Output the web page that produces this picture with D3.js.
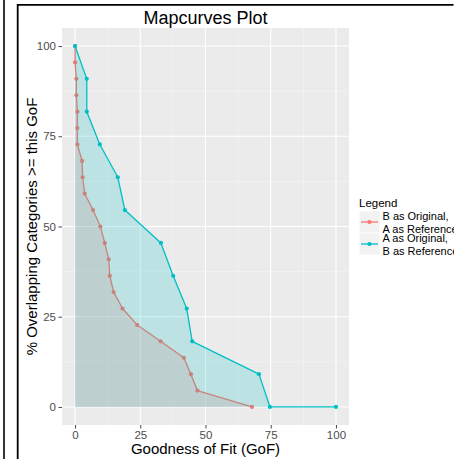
<!DOCTYPE html>
<html>
<head>
<meta charset="utf-8">
<script src="https://cdn.jsdelivr.net/npm/d3@7"></script>
<style>
  html, body { margin: 0; padding: 0; background: #fff; }
  svg { display: block; }
  text { font-family: "Liberation Sans", Arial, sans-serif; }
</style>
</head>
<body>
<script>
// Mapcurves: % of overlapping categories with goodness of fit >= each GoF value
const seriesNames = ["B as Original,\nA as Reference", "A as Original,\nB as Reference"];
const seriesColors = ["#F8766D", "#00BFC4"];

const gofB = [0, 0, 0.5, 0.5, 0.9, 0.9, 0.9, 2.7, 2.9, 3.7, 6.9, 9.7, 11.4, 12.9, 13.3, 14.8, 18.2, 23.8, 32.8, 41.7, 44.4, 46.9, 67.8];
const pctB = [100, 95.45, 90.91, 86.36, 81.82, 77.27, 72.73, 68.18, 63.64, 59.09, 54.55, 50, 45.45, 40.91, 36.36, 31.82, 27.27, 22.73, 18.18, 13.64, 9.09, 4.55, 0];

const gofA = [0, 4.5, 4.5, 9.5, 16.4, 19.1, 32.9, 37.6, 42.8, 44.9, 70.5, 74.7, 100];
const pctA = [100, 90.91, 81.82, 72.73, 63.64, 54.55, 45.45, 36.36, 27.27, 18.18, 9.09, 0, 0];

const xTicks = [0, 25, 50, 75, 100];
const yTicks = [0, 25, 50, 75, 100];
const xMinor = [12.5, 37.5, 62.5, 87.5];
const yMinor = [12.5, 37.5, 62.5, 87.5];

const W = 454, H = 459;
const panel = { left: 62, right: 349, top: 28, bottom: 425 };

const svg = d3.select("body").append("svg").attr("width", W).attr("height", H);

// page frame lines
svg.append("line").attr("x1", 4).attr("x2", 4).attr("y1", 0).attr("y2", H)
  .attr("stroke", "#000").attr("stroke-width", 1.6);
svg.append("line").attr("x1", 17.7).attr("x2", 17.7).attr("y1", 4).attr("y2", H)
  .attr("stroke", "#000").attr("stroke-width", 1.8);
svg.append("line").attr("x1", 17).attr("x2", 453.5).attr("y1", 4.8).attr("y2", 4.8)
  .attr("stroke", "#000").attr("stroke-width", 1.8);

const x = d3.scaleLinear().domain([-5, 105]).range([panel.left, panel.right]);
const y = d3.scaleLinear().domain([-5, 105]).range([panel.bottom, panel.top]);

// panel background
svg.append("rect").attr("x", panel.left).attr("y", panel.top)
  .attr("width", panel.right - panel.left).attr("height", panel.bottom - panel.top)
  .attr("fill", "#EBEBEB");

const grid = svg.append("g");
grid.selectAll(".vmin").data(xMinor).join("line")
  .attr("x1", d => x(d)).attr("x2", d => x(d)).attr("y1", panel.top).attr("y2", panel.bottom)
  .attr("stroke", "#F7F7F7").attr("stroke-width", 0.6);
grid.selectAll(".hmin").data(yMinor).join("line")
  .attr("y1", d => y(d)).attr("y2", d => y(d)).attr("x1", panel.left).attr("x2", panel.right)
  .attr("stroke", "#F7F7F7").attr("stroke-width", 0.6);
grid.selectAll(".vmaj").data(xTicks).join("line")
  .attr("x1", d => x(d)).attr("x2", d => x(d)).attr("y1", panel.top).attr("y2", panel.bottom)
  .attr("stroke", "#fff").attr("stroke-width", 1.1);
grid.selectAll(".hmaj").data(yTicks).join("line")
  .attr("y1", d => y(d)).attr("y2", d => y(d)).attr("x1", panel.left).attr("x2", panel.right)
  .attr("stroke", "#fff").attr("stroke-width", 1.1);

const seriesData = [
  gofB.map((g, i) => [g, pctB[i]]),
  gofA.map((g, i) => [g, pctA[i]])
];

const lineGen = d3.line().x(d => x(d[0])).y(d => y(d[1]));

seriesData.forEach((pts, k) => {
  const g = svg.append("g");
  // area enclosed by the curve and the axes
  const poly = pts.concat([[0, 0]]);
  g.append("path").attr("d", lineGen(poly) + "Z")
    .attr("fill", seriesColors[k]).attr("fill-opacity", 0.2).attr("stroke", "none");
  g.append("path").attr("d", lineGen(pts))
    .attr("fill", "none").attr("stroke", seriesColors[k]).attr("stroke-width", 1.3)
    .attr("stroke-linejoin", "round");
  g.selectAll("circle").data(pts).join("circle")
    .attr("cx", d => x(d[0])).attr("cy", d => y(d[1])).attr("r", 2.1)
    .attr("fill", seriesColors[k]);
});

// axes
const xAxis = d3.axisBottom(x).tickValues(xTicks).tickSize(3.5).tickPadding(2.5);
const gx = svg.append("g").attr("transform", `translate(0,${panel.bottom})`).call(xAxis);
const yAxis = d3.axisLeft(y).tickValues(yTicks).tickSize(3.5).tickPadding(2.5);
const gy = svg.append("g").attr("transform", `translate(${panel.left},0)`).call(yAxis);
[gx, gy].forEach(g => {
  g.select(".domain").remove();
  g.selectAll(".tick line").attr("stroke", "#333").attr("stroke-width", 0.9);
  g.selectAll(".tick text").attr("fill", "#4D4D4D")
    .style("font-family", '"Liberation Sans", Arial, sans-serif').style("font-size", "11.5px");
});

// titles
svg.append("text").attr("x", (panel.left + panel.right) / 2).attr("y", 24)
  .attr("text-anchor", "middle").attr("font-size", 18).attr("fill", "#000")
  .text("Mapcurves Plot");
svg.append("text").attr("x", (panel.left + panel.right) / 2).attr("y", 454)
  .attr("text-anchor", "middle").attr("font-size", 15).attr("fill", "#000")
  .text("Goodness of Fit (GoF)");
svg.append("text").attr("transform", `translate(37.3,${(panel.top + panel.bottom) / 2}) rotate(-90)`)
  .attr("text-anchor", "middle").attr("font-size", 15).attr("fill", "#000")
  .text("% Overlapping Categories >= this GoF");

// legend
const leg = svg.append("g");
leg.append("text").attr("x", 359).attr("y", 207).attr("font-size", 11.5).attr("fill", "#000").text("Legend");
const keyY = [222, 244];
seriesNames.forEach((name, k) => {
  const cy = keyY[k];
  leg.append("rect").attr("x", 359.5).attr("y", cy - 10.5).attr("width", 20).attr("height", 21)
    .attr("fill", "#F2F2F2");
  leg.append("line").attr("x1", 361).attr("x2", 378).attr("y1", cy).attr("y2", cy)
    .attr("stroke", seriesColors[k]).attr("stroke-width", 1.3);
  leg.append("circle").attr("cx", 369.5).attr("cy", cy).attr("r", 2.1).attr("fill", seriesColors[k]);
  name.split("\n").forEach((ln, j) => {
    leg.append("text").attr("x", 382.5).attr("y", cy - 2 + j * 12.5)
      .attr("font-size", 11).attr("fill", "#000").text(ln);
  });
});
</script>
</body>
</html>
